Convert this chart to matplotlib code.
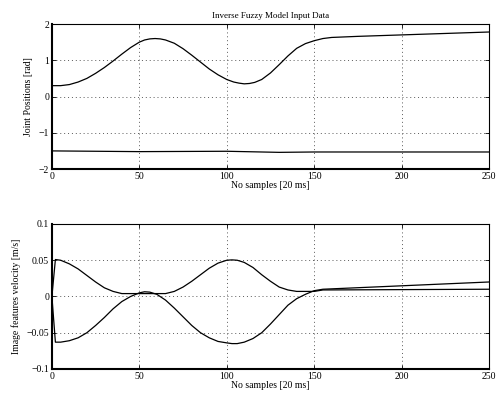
import numpy as np
import matplotlib
matplotlib.use('Agg')
import matplotlib.pyplot as plt

plt.rcParams['font.family'] = ['Liberation Serif', 'DejaVu Serif']
plt.rcParams['font.size'] = 7

# Datos: posiciones articulares
muestras_q1 = [0, 5, 10, 15, 20, 25, 30, 35, 40, 45, 50, 53, 56, 59, 62, 65, 70, 75, 80, 85, 90,
               95, 100, 104, 107, 110, 113, 116, 120, 125, 130, 135, 140, 145, 150, 155, 160,
               175, 200, 225, 250]
q1 = [0.30, 0.30, 0.33, 0.40, 0.50, 0.64, 0.80, 0.98, 1.17, 1.35, 1.50, 1.56, 1.59, 1.60, 1.59,
      1.56, 1.47, 1.32, 1.14, 0.95, 0.76, 0.60, 0.47, 0.40, 0.37, 0.35, 0.36, 0.39, 0.47, 0.65,
      0.88, 1.12, 1.33, 1.46, 1.54, 1.60, 1.63, 1.66, 1.70, 1.74, 1.78]
muestras_q2 = [0, 50, 100, 130, 150, 250]
q2 = [-1.50, -1.52, -1.51, -1.54, -1.53, -1.53]

# Velocidades de las caracteristicas de imagen
muestras_v = [0, 2, 5, 10, 15, 20, 25, 30, 35, 40, 45, 50, 53, 56, 60, 65, 70, 75, 80, 85, 90,
              95, 100, 103, 106, 110, 115, 120, 125, 130, 135, 140, 145, 150, 155, 250]
v1 = [0, 0.051, 0.050, 0.045, 0.038, 0.029, 0.020, 0.012, 0.007, 0.004, 0.004, 0.004, 0.004,
      0.004, 0.004, 0.004, 0.007, 0.013, 0.021, 0.030, 0.039, 0.046, 0.050, 0.0505, 0.050,
      0.047, 0.040, 0.030, 0.021, 0.013, 0.009, 0.007, 0.007, 0.007, 0.009, 0.010]
v2 = [0, -0.063, -0.063, -0.061, -0.057, -0.050, -0.040, -0.029, -0.017, -0.007, 0.000, 0.005,
      0.0065, 0.006, 0.003, -0.005, -0.016, -0.028, -0.040, -0.050, -0.057, -0.062, -0.064,
      -0.065, -0.065, -0.063, -0.058, -0.050, -0.038, -0.025, -0.012, -0.003, 0.003, 0.008,
      0.010, 0.020]

fig = plt.figure(figsize=(4.99, 3.94), dpi=100)
ax1 = fig.add_axes([0.104, 0.571, 0.876, 0.368])
ax2 = fig.add_axes([0.104, 0.0635, 0.876, 0.368])


def estilo(ax):
    ax.set_xlim(0, 250)
    ax.set_xticks([0, 50, 100, 150, 200, 250])
    ax.grid(True, linestyle=(0, (1, 3)), color='0.35', linewidth=0.7)
    ax.tick_params(direction='in', top=True, right=True, length=3, width=0.6, pad=2)
    for lado in ['top', 'right']:
        ax.spines[lado].set_linewidth(0.8)
    for lado in ['left', 'bottom']:
        ax.spines[lado].set_linewidth(1.5)
    ax.set_xlabel('No samples [20 ms]', labelpad=0)


ax1.plot(muestras_q1, q1, color='k', linewidth=0.9)
ax1.plot(muestras_q2, q2, color='k', linewidth=0.9)
ax1.set_ylim(-2, 2)
ax1.set_yticks([-2, -1, 0, 1, 2])
ax1.set_yticklabels(['\u22122', '\u22121', '0', '1', '2'])
ax1.set_ylabel('Joint Positions [rad]')
ax1.set_title('Inverse Fuzzy Model Input Data', pad=4, fontsize=6.5)
estilo(ax1)

ax2.plot(muestras_v, v1, color='k', linewidth=0.9)
ax2.plot(muestras_v, v2, color='k', linewidth=0.9)
ax2.set_ylim(-0.1, 0.1)
ax2.set_yticks([-0.1, -0.05, 0, 0.05, 0.1])
ax2.set_yticklabels(['\u22120.1', '\u22120.05', '0', '0.05', '0.1'])
ax2.set_ylabel('Image features velocity [m/s]')
estilo(ax2)

plt.savefig('out.png', dpi=100)
